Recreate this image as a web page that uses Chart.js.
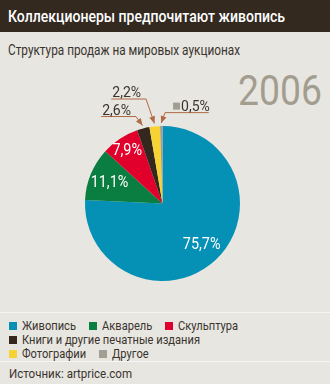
<!DOCTYPE html>
<html>
<head>
<meta charset="utf-8">
<script src="https://cdn.jsdelivr.net/npm/chart.js@4/dist/chart.umd.min.js"></script>
<style>
  html, body { margin: 0; padding: 0; }
  body {
    width: 330px; height: 384px; position: relative; overflow: hidden;
    background: #e8e6e1;
    font-family: Roboto, "Noto Sans", sans-serif;
    color: #3a342e;
  }
  .fit { display: inline-block; white-space: nowrap; transform-origin: 0 0; }
  #head {
    position: absolute; left: 0; top: 0; width: 330px; height: 32px;
    background: #33291f; color: #fff; font-size: 17px; font-weight: 500; line-height: 32px;
    padding-left: 8px; box-sizing: border-box; white-space: nowrap;
  }
  #sub { position: absolute; left: 8px; top: 41px; font-size: 14px; line-height: 18px; color: #3a342e; }
  #year { position: absolute; left: 238px; top: 67px; font-size: 42px; line-height: 48px; color: #a39d90; }
  #chart { position: absolute; left: 0; top: 0; }
  .rule { position: absolute; left: 0; width: 330px; height: 1px; background: #f7f6f2; }
  #legend { position: absolute; left: 9px; top: 319px; font-size: 13px; line-height: 14px; transform-origin: 0 0; }
  .row { display: flex; white-space: nowrap; }
  .item { display: flex; align-items: center; margin-right: 13px; }
  .sw { width: 8px; height: 8px; margin-right: 5px; }
  #src { position: absolute; left: 9px; top: 366px; font-size: 13px; line-height: 16px; }
</style>
</head>
<body>
<div id="head"><span class="fit" data-w="277">Коллекционеры предпочитают живопись</span></div>
<div id="sub" class="fit" data-w="232">Структура продаж на мировых аукционах</div>
<div id="year" class="fit" data-w="84">2006</div>
<div class="rule" style="top:312px"></div>
<div class="rule" style="top:361px"></div>
<div id="legend"></div>
<div id="src" class="fit" data-w="123">Источник: artprice.com</div>
<canvas id="chart" width="330" height="384"></canvas>
<script>
// Sales structure at world auctions, 2006 (share, %)
const categories = ['Живопись', 'Акварель', 'Скульптура', 'Книги и другие печатные издания', 'Фотографии', 'Другое'];
const shares = [75.7, 11.1, 7.9, 2.6, 2.2, 0.5];
const sliceColors = ['#0590b6', '#0a7d40', '#e0002b', '#33271e', '#f6d234', '#a39e93'];
const legendRows = [[0, 1, 2], [3], [4, 5]];

const fmt = v => v.toFixed(1).replace('.', ',') + '%';

// narrow the text blocks horizontally to a condensed look
document.querySelectorAll('.fit').forEach(el => {
  const w = el.getBoundingClientRect().width;
  el.style.transform = 'scaleX(' + (+el.dataset.w / w) + ')';
});

// HTML legend built from the category list
const legend = document.getElementById('legend');
legendRows.forEach(row => {
  const r = document.createElement('div');
  r.className = 'row';
  row.forEach(i => {
    const it = document.createElement('div');
    it.className = 'item';
    const sw = document.createElement('span');
    sw.className = 'sw';
    sw.style.background = sliceColors[i];
    const tx = document.createElement('span');
    tx.textContent = categories[i];
    tx.className = 'lt';
    it.appendChild(sw); it.appendChild(tx);
    r.appendChild(it);
  });
  legend.appendChild(r);
});
// condense the legend so the longest entry spans 178px of text
(() => {
  const longest = legend.children[1].querySelector('.lt');
  const k = 178 / longest.getBoundingClientRect().width;
  legend.querySelectorAll('.lt').forEach(t => {
    const w = t.getBoundingClientRect().width;
    t.style.display = 'inline-block';
    t.style.width = (w * k) + 'px';
    t.style.overflow = 'visible';
    t.style.transformOrigin = '0 0';
    t.style.transform = 'scaleX(' + k + ')';
  });
})();

const FONT = 'Roboto, "Noto Sans", sans-serif';

function squeezeText(ctx, text, x, y, k) {
  ctx.save();
  ctx.translate(x, y);
  ctx.scale(k, 1);
  ctx.fillText(text, 0, 0);
  ctx.restore();
}

// Percent labels: inside the large slices, callouts with arrows for the thin ones
const sliceLabels = {
  id: 'sliceLabels',
  afterDatasetsDraw(chart, args, opts) {
    const ctx = chart.ctx;
    const arcs = chart.getDatasetMeta(0).data;
    const values = chart.data.datasets[0].data;
    ctx.save();
    arcs.forEach((arc, i) => {
      const mid = (arc.startAngle + arc.endAngle) / 2;
      const text = fmt(values[i]);
      const inside = opts.inside[i];
      if (inside) {
        const r = arc.outerRadius * inside;
        ctx.font = '16px ' + FONT;
        ctx.fillStyle = '#ffffff';
        ctx.textAlign = 'center';
        ctx.textBaseline = 'middle';
        squeezeText(ctx, text, arc.x + Math.cos(mid) * r, arc.y + Math.sin(mid) * r + 1, 0.9);
        return;
      }
      const c = opts.callout[i];
      if (!c) return;
      const tr = arc.outerRadius + 3;
      const tipX = arc.x + Math.cos(mid) * tr;
      const tipY = arc.y + Math.sin(mid) * tr;
      const ex = tipX + c.dx, ey = tipY + c.dy;
      ctx.font = '14px ' + FONT;
      const tw = ctx.measureText(text).width + (c.box ? 9 : 0);
      const x2 = c.side < 0 ? ex - tw - 6 : ex + tw + 6;
      // leader: underline + slanted segment
      ctx.strokeStyle = opts.lineColor;
      ctx.lineWidth = 1;
      ctx.beginPath();
      ctx.moveTo(x2, ey);
      ctx.lineTo(ex, ey);
      ctx.lineTo(tipX, tipY);
      ctx.stroke();
      // arrowhead
      const ang = Math.atan2(tipY - ey, tipX - ex);
      const L = 7, W = 3;
      ctx.fillStyle = opts.lineColor;
      ctx.beginPath();
      ctx.moveTo(tipX, tipY);
      ctx.lineTo(tipX - L * Math.cos(ang) + W * Math.sin(ang), tipY - L * Math.sin(ang) - W * Math.cos(ang));
      ctx.lineTo(tipX - L * Math.cos(ang) - W * Math.sin(ang), tipY - L * Math.sin(ang) + W * Math.cos(ang));
      ctx.closePath();
      ctx.fill();
      // text
      let tx = c.side < 0 ? x2 + 1 : ex + 8;
      if (c.box) {
        ctx.fillStyle = chart.data.datasets[0].backgroundColor[i];
        ctx.fillRect(tx, ey - 10, 7, 7);
        tx += 8;
      }
      ctx.fillStyle = '#3a342e';
      ctx.textAlign = 'left';
      ctx.textBaseline = 'alphabetic';
      ctx.fillText(text, tx, ey - 2);
    });
    ctx.restore();
  }
};

new Chart(document.getElementById('chart'), {
  type: 'pie',
  data: {
    labels: categories,
    datasets: [{
      data: shares,
      backgroundColor: sliceColors,
      borderWidth: 0
    }]
  },
  options: {
    responsive: false,
    animation: false,
    rotation: 0,
    layout: { padding: { left: 85, right: 90, top: 126, bottom: 103 } },
    plugins: {
      legend: { display: false },
      tooltip: { enabled: false },
      sliceLabels: {
        lineColor: '#b06a44',
        inside: [0.73, 0.74, 0.83, null, null, null],
        callout: [null, null, null,
          { dx: -6.5, dy: -9, side: -1 },
          { dx: -8.4, dy: -24.4, side: -1 },
          { dx: 3.8, dy: -10.4, side: 1, box: true }]
      }
    }
  },
  plugins: [sliceLabels]
});
</script>
</body>
</html>
